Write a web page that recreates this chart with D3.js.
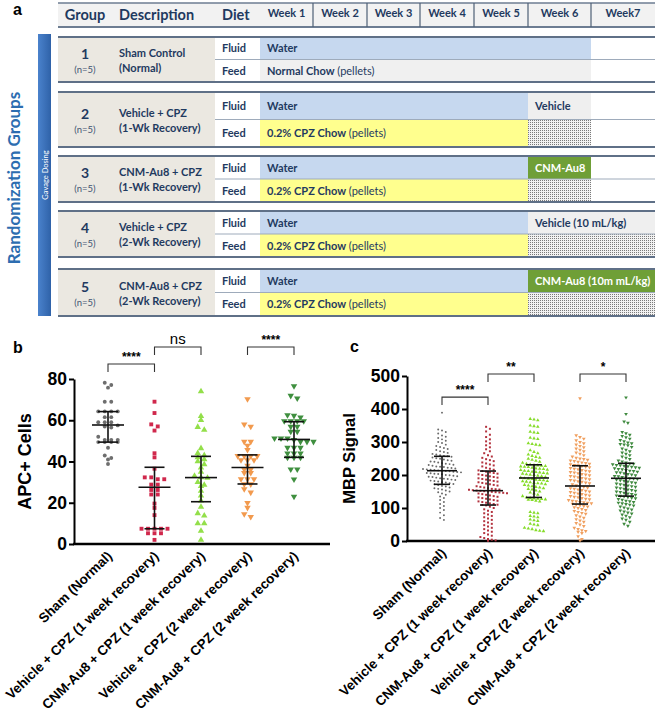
<!DOCTYPE html>
<html><head><meta charset="utf-8">
<script src="https://cdn.jsdelivr.net/npm/d3@7"></script>
<style>body{margin:0;background:#fff}svg{display:block}</style>
</head><body>
<script>
// ================= DATA =================
// Panel a : study design table
const headers = ["Group", "Description", "Diet"];
const weeks = ["Week 1", "Week 2", "Week 3", "Week 4", "Week 5", "Week 6", "Week7"];
const groupNums = ["1", "2", "3", "4", "5"];
const groupN = ["(n=5)", "(n=5)", "(n=5)", "(n=5)", "(n=5)"];
const groupDesc1 = ["Sham Control", "Vehicle + CPZ", "CNM-Au8 + CPZ", "Vehicle + CPZ", "CNM-Au8 + CPZ"];
const groupDesc2 = ["(Normal)", "(1-Wk Recovery)", "(1-Wk Recovery)", "(2-Wk Recovery)", "(2-Wk Recovery)"];
const dietRows = ["Fluid", "Feed"];
const waterLabel = ["Water", "Water", "Water", "Water", "Water"];
const waterWeeks = [6, 5, 5, 5, 5];
const feedBold = ["Normal Chow", "0.2% CPZ Chow", "0.2% CPZ Chow", "0.2% CPZ Chow", "0.2% CPZ Chow"];
const feedNote = [" (pellets)", " (pellets)", " (pellets)", " (pellets)", " (pellets)"];
const feedType = ["normal", "cpz", "cpz", "cpz", "cpz"];
const feedWeeks = [6, 5, 5, 5, 5];
const dosingLabel = ["", "Vehicle", "CNM-Au8", "Vehicle (10 mL/kg)", "CNM-Au8 (10m mL/kg)"];
const dosingType = ["none", "vehicle", "cnm", "vehicle", "cnm"];
const dosingWeeks = [0, 1, 1, 2, 2];
const sideTitle = "Randomization Groups";
const barTitle = "Gavage Dosing";

// Panels b and c : categories
const categories = ["Sham (Normal)", "Vehicle + CPZ (1 week recovery)", "CNM-Au8 + CPZ (1 week recovery)",
  "Vehicle + CPZ (2 week recovery)", "CNM-Au8 + CPZ (2 week recovery)"];

// Panel b : APC+ cells
const apcSham = [78.2, 77.1, 75.8, 69, 69, 64.3, 64.3, 64.3, 64.3, 61.5, 61.5, 59, 59, 59, 57.5, 57, 56.5, 52, 50.5, 50.5, 50.5, 49.4, 49.4, 49.4, 49.4, 46.7, 42.9, 41.7, 41, 38.8];
const apcVeh1 = [69, 63.5, 58, 57, 55, 44, 42, 36.5, 32.3, 32.3, 31.4, 31.4, 28.8, 28.8, 26.2, 26.2, 24, 24, 19.6, 17.5, 14, 7.4, 7.4, 7.4, 7.4, 7.4, 5.2, 5.2, 5.2, 2];
const apcCnm1 = [74, 62, 60, 56.7, 55.3, 46.4, 44, 43, 42, 41, 40, 38.6, 37, 35, 33, 32.3, 32, 30, 28.6, 28, 25.7, 23.4, 21, 18, 14.9, 13.7, 10, 10, 6.3, 2];
const apcVeh2 = [70.3, 58, 56.9, 49.6, 49.6, 47.7, 45.7, 42.7, 42.7, 42.7, 42.7, 40.7, 40.7, 40.7, 38, 36.2, 36.2, 34.5, 34.5, 31.5, 31.5, 31.5, 29, 29, 26.6, 25, 20, 17.6, 14.5, 13.2];
const apcCnm2 = [76.6, 71.9, 70.6, 62.5, 62.2, 61.4, 59.6, 59.6, 59.6, 59.6, 56.9, 56.9, 54.5, 54.5, 51.2, 51.2, 51.2, 50.5, 49.6, 49.6, 49.6, 46.7, 46.7, 46.7, 44, 44, 44, 41.9, 41.9, 41.9, 36.2, 36.2, 31.4, 23];
const apcMedian = [57.7, 27.5, 32.2, 37.1, 50.7];
const apcQ1 = [49.4, 7.4, 20.5, 29.1, 42];
const apcQ3 = [64.2, 37.2, 42.5, 43.2, 59.3];
const apcTicks = [0, 20, 40, 60, 80];
const apcCompFrom = [0, 1, 3];
const apcCompTo = [1, 2, 4];
const apcCompLabel = ["****", "ns", "****"];
const apcCompLevel = [87.3, 95.5, 95.5];

// Panel c : MBP signal
const mbpSham = [389, 338, 335, 330, 326, 320, 316, 312, 308, 304, 300, 297,
  292, 288, 285, 282, 279, 276, 272, 270, 267, 264, 262, 260, 258, 257, 255,
  253, 251, 249, 247, 245, 243, 241, 240, 238, 236, 234, 233, 231, 230, 228, 226, 225, 224, 222, 221,
  220, 218, 217, 216, 215, 214, 213, 212, 211, 210, 209, 208, 206, 205, 204, 203, 202, 200, 199, 198,
  196, 195, 194, 192, 190, 189, 188, 186, 185, 183, 182, 180, 178, 177, 175, 173, 172,
  170, 167, 165, 162, 160, 158, 156, 153, 150, 148, 144, 140, 135, 130, 124, 118, 112, 106,
  100, 94, 86, 78, 70, 64];
const mbpVeh1 = [346, 340, 332, 322, 315, 308, 302, 296, 290, 284, 278, 272, 266, 260, 256, 252,
  248, 245, 242, 238, 235, 232, 229, 226, 222, 219, 216, 214, 212,
  210, 208, 206, 204, 202, 200, 198, 196, 194, 192, 190, 188, 186, 184, 182, 180, 178, 176, 174, 172,
  170, 168, 166, 164, 162, 160, 158, 157, 156, 155, 154, 153, 152, 151, 150, 149, 148, 147, 146, 145,
  144, 142, 140, 138, 136, 134, 132, 130, 128, 126, 124, 122, 120, 118, 116, 114, 112, 110, 109, 108,
  104, 100, 96, 92, 88, 84, 80, 76, 72, 68, 64, 60, 56, 52,
  48, 44, 40, 36, 32, 28, 24, 20, 16, 12, 9, 6, 4, 2, 1];
const mbpCnm1 = [370, 368, 366, 350, 348, 346, 331, 329, 327, 313, 311, 309, 296, 294, 292, 290,
  275, 270, 266, 262, 258, 255, 252, 249, 246, 243, 240, 237, 234, 232,
  230, 229, 228, 227, 226, 225, 224, 222, 220, 219, 218, 216, 215, 213, 212, 210, 209, 208, 206, 205,
  204, 202, 201, 200, 198, 196, 194, 192,
  190, 189, 188, 186, 185, 184, 182, 181, 180, 178, 176, 175, 174, 172, 170, 168, 166, 164, 162, 160,
  158, 156, 153, 150, 147, 144, 140, 136,
  132, 130, 129, 128, 127, 126, 125, 124, 122, 120,
  88, 86, 84, 76, 74, 72, 65, 63, 61, 52, 50, 48, 40, 38, 36, 33, 31, 30];
const mbpVeh2 = [432, 320, 315, 310, 305, 300, 296, 292, 288, 284, 280, 276, 272, 268, 264, 260, 256, 252, 250, 248, 246,
  244, 242, 240, 238, 236, 234, 232, 230, 229,
  227, 225, 223, 221, 219, 217, 215, 213, 211, 209, 207, 205, 203, 201, 199, 197, 195, 193, 191, 189,
  187, 185, 183, 181, 179, 177, 175, 172, 169,
  166, 164, 162, 160, 158, 156, 154, 152, 150, 148, 146, 144, 142, 140, 138, 136, 134, 132, 130, 128,
  126, 124, 122, 120, 118, 117, 116, 114, 113,
  110, 108, 106, 104, 102, 100, 97, 94, 91, 88, 85, 82, 78, 74, 70, 66, 62, 58, 54, 50,
  45, 40, 36, 32, 30, 28, 24, 14, 6, 2];
const mbpCnm2 = [435, 385, 362, 358, 330, 326, 322, 318, 314, 310, 306, 302, 298, 296, 294, 292,
  290, 285, 280, 276, 272, 268, 264, 260, 256, 252, 248, 244, 241, 238,
  235, 234, 232, 230, 229, 228, 226, 225, 223, 222, 220, 218, 217, 215, 213, 212, 210, 208, 207, 205,
  203, 201, 199, 197, 196, 194, 192, 190,
  189, 188, 186, 184, 182, 180, 178, 176, 174, 172, 170, 168, 166, 164, 162, 160, 158, 156, 154, 152,
  150, 148, 146, 144, 142, 140, 138, 137,
  135, 133, 131, 129, 127, 125, 122, 120, 118, 116, 114, 112, 110, 107, 104, 101, 98, 95, 92, 89,
  86, 83, 80, 76, 72, 68, 64, 58, 52, 46];
const mbpMedian = [213, 152.5, 191, 166.7, 190];
const mbpQ1 = [171.7, 109, 132, 112, 136];
const mbpQ3 = [256.6, 212, 231, 228, 235.5];
const mbpTicks = [0, 100, 200, 300, 400, 500];
const mbpCompFrom = [0, 1, 3];
const mbpCompTo = [1, 2, 4];
const mbpCompLabel = ["****", "**", "*"];
const mbpCompLevel = [436, 506, 506];

// ================= STYLE / LAYOUT =================
const W = 659, H = 715;
const navy = "#1f3a60";
const tblFont = "Lato, 'Open Sans', sans-serif";
const chartFont = "'Liberation Sans', Arial, sans-serif";
const weekEdges = [260, 313, 367, 420, 474, 528, 591, 655];
const groupTop = [37, 92, 156, 211, 269];
const groupBot = [82, 147, 202, 257, 316];
const tblLeft = 58, descRight = 215, tblRight = 655;

const svg = d3.select("body").append("svg").attr("width", W).attr("height", H)
  .attr("viewBox", `0 0 ${W} ${H}`);
const defs = svg.append("defs");
const pat = defs.append("pattern").attr("id", "stipple").attr("width", 2).attr("height", 2)
  .attr("patternUnits", "userSpaceOnUse");
pat.append("rect").attr("width", 2).attr("height", 2).attr("fill", "#f2f2f2");
pat.append("rect").attr("width", 1).attr("height", 1).attr("fill", "#7a7a7a");
const grad = defs.append("linearGradient").attr("id", "barGrad").attr("x1", 0).attr("x2", 1);
grad.append("stop").attr("offset", 0).attr("stop-color", "#4a82cc");
grad.append("stop").attr("offset", 1).attr("stop-color", "#2f62a8");

// ================= PANEL A =================
const A = svg.append("g");
A.append("text").attr("x", 13).attr("y", 15).text("a")
  .attr("font-family", chartFont).attr("font-size", 16).attr("font-weight", "bold");

// header
A.append("rect").attr("x", tblLeft).attr("y", 3).attr("width", tblRight - tblLeft).attr("height", 24).attr("fill", "#f2f2f2");
A.append("line").attr("x1", tblLeft).attr("x2", tblRight).attr("y1", 3).attr("y2", 3).attr("stroke", "#6d7d92").attr("stroke-width", 1.5);
A.append("line").attr("x1", tblLeft).attr("x2", tblRight).attr("y1", 27).attr("y2", 27).attr("stroke", "#6d7d92").attr("stroke-width", 2);
const headerX = [85, 119, 222];
const headerAnchor = ["middle", "start", "start"];
A.selectAll("text.hdr").data(headers).join("text").attr("class", "hdr")
  .attr("x", (d, i) => headerX[i]).attr("y", 20).attr("text-anchor", (d, i) => headerAnchor[i])
  .attr("font-family", tblFont).attr("font-weight", "bold").attr("font-size", 14.5).attr("fill", navy).text(d => d);
A.selectAll("line.wsep").data(weeks.slice(1)).join("line").attr("class", "wsep")
  .attr("x1", (d, i) => weekEdges[i + 1]).attr("x2", (d, i) => weekEdges[i + 1]).attr("y1", 3).attr("y2", 27)
  .attr("stroke", "#4e5f75").attr("stroke-width", 1.2);
A.selectAll("text.wk").data(weeks).join("text").attr("class", "wk")
  .attr("x", (d, i) => (weekEdges[i] + weekEdges[i + 1]) / 2).attr("y", 16.5).attr("text-anchor", "middle")
  .attr("font-family", tblFont).attr("font-weight", "bold").attr("font-size", 11).attr("fill", navy).text(d => d);

// side titles
A.append("text").attr("transform", "translate(20,178) rotate(-90)").attr("text-anchor", "middle")
  .attr("font-family", tblFont).attr("font-weight", "bold").attr("font-size", 17).attr("fill", "#2d6db0").text(sideTitle);
A.append("rect").attr("x", 38).attr("y", 34).attr("width", 13).attr("height", 282).attr("fill", "url(#barGrad)");
A.append("text").attr("transform", "translate(47.5,175) rotate(-90)").attr("text-anchor", "middle")
  .attr("font-family", tblFont).attr("font-size", 7.5).attr("fill", "#ffffff").text(barTitle);

groupNums.forEach((num, g) => {
  const t = groupTop[g], b = groupBot[g], m = (t + b) / 2;
  const G = A.append("g");
  G.append("rect").attr("x", tblLeft).attr("y", t).attr("width", descRight - tblLeft).attr("height", b - t).attr("fill", "#ebe8e1");
  // fluid: water
  G.append("rect").attr("x", weekEdges[0]).attr("y", t).attr("width", weekEdges[waterWeeks[g]] - weekEdges[0]).attr("height", m - t).attr("fill", "#c6d8ef");
  // feed
  G.append("rect").attr("x", weekEdges[0]).attr("y", m).attr("width", weekEdges[feedWeeks[g]] - weekEdges[0]).attr("height", b - m)
    .attr("fill", feedType[g] === "normal" ? "#f0f0f0" : "#ffff8e");
  // dosing
  if (dosingWeeks[g] > 0) {
    const x0 = weekEdges[5], x1 = weekEdges[5 + dosingWeeks[g]];
    G.append("rect").attr("x", x0).attr("y", t).attr("width", x1 - x0).attr("height", m - t)
      .attr("fill", dosingType[g] === "cnm" ? "#6f9f37" : "#efefef");
    G.append("rect").attr("x", x0).attr("y", m).attr("width", x1 - x0).attr("height", b - m).attr("fill", "url(#stipple)");
    G.append("text").attr("x", x0 + 7).attr("y", (t + m) / 2 + 4).attr("font-family", tblFont).attr("font-weight", "bold")
      .attr("font-size", 11).attr("fill", dosingType[g] === "cnm" ? "#ffffff" : navy).text(dosingLabel[g]);
  }
  // lines
  G.append("line").attr("x1", descRight).attr("x2", tblRight).attr("y1", m).attr("y2", m).attr("stroke", "#9eabbb").attr("stroke-width", 1);
  G.append("line").attr("x1", tblLeft).attr("x2", tblRight).attr("y1", t).attr("y2", t).attr("stroke", "#5f7087").attr("stroke-width", 2);
  G.append("line").attr("x1", tblLeft).attr("x2", tblRight).attr("y1", b).attr("y2", b).attr("stroke", "#5f7087").attr("stroke-width", 2);
  // texts
  G.append("text").attr("x", 85).attr("y", m - 1).attr("text-anchor", "middle").attr("font-family", tblFont)
    .attr("font-weight", "bold").attr("font-size", 14).attr("fill", navy).text(num);
  G.append("text").attr("x", 85).attr("y", m + 13).attr("text-anchor", "middle").attr("font-family", tblFont)
    .attr("font-size", 9.5).attr("fill", "#3f5473").text(groupN[g]);
  G.append("text").attr("x", 119).attr("y", m - 3).attr("font-family", tblFont).attr("font-weight", "bold")
    .attr("font-size", 11).attr("fill", navy).text(groupDesc1[g]);
  G.append("text").attr("x", 119).attr("y", m + 12).attr("font-family", tblFont).attr("font-weight", "bold")
    .attr("font-size", 11).attr("fill", navy).text(groupDesc2[g]);
  dietRows.forEach((r, k) => {
    const yy = k === 0 ? (t + m) / 2 + 4 : (m + b) / 2 + 4;
    G.append("text").attr("x", 222).attr("y", yy).attr("font-family", tblFont).attr("font-weight", "bold")
      .attr("font-size", 11).attr("fill", navy).text(r);
  });
  G.append("text").attr("x", weekEdges[0] + 7).attr("y", (t + m) / 2 + 4).attr("font-family", tblFont).attr("font-weight", "bold")
    .attr("font-size", 11).attr("fill", navy).text(waterLabel[g]);
  const ft = G.append("text").attr("x", weekEdges[0] + 7).attr("y", (m + b) / 2 + 4).attr("font-family", tblFont)
    .attr("font-size", 11).attr("fill", navy);
  ft.append("tspan").attr("font-weight", "bold").text(feedBold[g]);
  ft.append("tspan").attr("font-weight", "normal").text(feedNote[g]);
});

// ================= PANELS B & C =================
function swarm(values, y, cx, spacing, bin) {
  const s = values.slice().sort((a, b) => b - a);
  const rows = [];
  s.forEach(v => {
    const py = y(v);
    const last = rows[rows.length - 1];
    if (last && py - last.y0 < bin) last.pts.push(py); else rows.push({ y0: py, pts: [py] });
  });
  const out = [];
  rows.forEach(r => {
    const n = r.pts.length;
    r.pts.forEach((py, i) => out.push({ x: cx + (i - (n - 1) / 2) * spacing, y: py }));
  });
  return out;
}

function scatterPanel(cfg) {
  const P = svg.append("g");
  const x = d3.scalePoint().domain(categories).range(cfg.xr);
  const y = d3.scaleLinear().domain(cfg.yd).range(cfg.yr);
  P.append("text").attr("x", cfg.lx).attr("y", cfg.ly).text(cfg.letter)
    .attr("font-family", chartFont).attr("font-size", 16).attr("font-weight", "bold");
  // y axis
  const ax = P.append("g").attr("transform", `translate(${cfg.axX},0)`)
    .call(d3.axisLeft(y).tickValues(cfg.ticks).tickSize(5).tickSizeOuter(0).tickPadding(2));
  ax.select(".domain").attr("stroke", "#000").attr("stroke-width", 2);
  ax.selectAll(".tick line").attr("stroke", "#000").attr("stroke-width", 2);
  ax.selectAll(".tick text").attr("font-family", chartFont).attr("font-weight", "bold").attr("font-size", 17.5).attr("fill", "#000");
  // x axis line
  P.append("line").attr("x1", cfg.axX - 1).attr("x2", cfg.axEnd).attr("y1", y(0)).attr("y2", y(0)).attr("stroke", "#000").attr("stroke-width", 2.5);
  // y label
  P.append("text").attr("transform", `translate(${cfg.ylx},${(cfg.yr[0] + cfg.yr[1]) / 2}) rotate(-90)`)
    .attr("text-anchor", "middle").attr("font-family", chartFont).attr("font-weight", "bold").attr("font-size", cfg.ylSize).text(cfg.ylabel);
  // x labels
  P.selectAll("text.xl").data(categories).join("text").attr("class", "xl")
    .attr("transform", d => `translate(${x(d) + 5},${y(0) + 13}) rotate(-44)`)
    .attr("text-anchor", "end").attr("font-family", chartFont).attr("font-weight", "bold").attr("font-size", 13.5).text(d => d);
  // points
  cfg.series.forEach((vals, i) => {
    const pts = swarm(vals, y, x(categories[i]), cfg.spacing, cfg.bin);
    const sym = d3.symbol().type(cfg.shapes[i]).size(cfg.sizes[i]);
    P.append("g").selectAll("path").data(pts).join("path")
      .attr("transform", d => `translate(${d.x},${d.y})` + (cfg.flip[i] ? " rotate(180)" : ""))
      .attr("d", sym).attr("fill", cfg.colors[i]);
  });
  // median + IQR
  categories.forEach((c, i) => {
    const cx = x(c);
    const g = P.append("g").attr("stroke", "#111").attr("stroke-width", 1.6);
    g.append("line").attr("x1", cx - cfg.medW).attr("x2", cx + cfg.medW).attr("y1", y(cfg.med[i])).attr("y2", y(cfg.med[i]));
    g.append("line").attr("x1", cx).attr("x2", cx).attr("y1", y(cfg.q1[i])).attr("y2", y(cfg.q3[i]));
    g.append("line").attr("x1", cx - cfg.capW).attr("x2", cx + cfg.capW).attr("y1", y(cfg.q1[i])).attr("y2", y(cfg.q1[i]));
    g.append("line").attr("x1", cx - cfg.capW).attr("x2", cx + cfg.capW).attr("y1", y(cfg.q3[i])).attr("y2", y(cfg.q3[i]));
  });
  // significance brackets
  cfg.compLabel.forEach((lab, k) => {
    const x0 = x(categories[cfg.compFrom[k]]), x1 = x(categories[cfg.compTo[k]]);
    const yy = y(cfg.compLevel[k]);
    P.append("path").attr("d", `M${x0},${yy + 8}V${yy}H${x1}V${yy + 8}`).attr("fill", "none").attr("stroke", "#333").attr("stroke-width", 1.1);
    const ns = lab === "ns";
    P.append("text").attr("x", (x0 + x1) / 2).attr("y", yy - 3).attr("text-anchor", "middle")
      .attr("font-family", chartFont).attr("font-weight", ns ? "normal" : "bold").attr("font-size", ns ? 15 : 12).text(lab);
  });
}

const sq = d3.symbolSquare, ci = d3.symbolCircle, tr = d3.symbolTriangle;
scatterPanel({
  letter: "b", lx: 13, ly: 353, xr: [108, 294], yd: [0, 80], yr: [544, 379], axX: 74, axEnd: 330,
  ticks: apcTicks, ylabel: "APC+ Cells", ylx: 31, ylSize: 18,
  series: [apcSham, apcVeh1, apcCnm1, apcVeh2, apcCnm2],
  colors: ["#6e6e6e", "#d0284c", "#93df4a", "#f29a4e", "#3f8f3f"],
  shapes: [ci, sq, tr, tr, tr], sizes: [12, 15, 18, 18, 18], flip: [false, false, false, true, true],
  spacing: 6.5, bin: 3.5, medW: 16, capW: 10,
  med: apcMedian, q1: apcQ1, q3: apcQ3,
  compFrom: apcCompFrom, compTo: apcCompTo, compLabel: apcCompLabel, compLevel: apcCompLevel
});
scatterPanel({
  letter: "c", lx: 350, ly: 352, xr: [442, 626], yd: [0, 500], yr: [541, 376], axX: 407, axEnd: 655,
  ticks: mbpTicks, ylabel: "MBP Signal", ylx: 355, ylSize: 16.5,
  series: [mbpSham, mbpVeh1, mbpCnm1, mbpVeh2, mbpCnm2],
  colors: ["#6a6a6a", "#b3323e", "#86dc2a", "#f0a060", "#3f8a3f"],
  shapes: [ci, sq, tr, tr, tr], sizes: [3, 4, 5.5, 6, 6], flip: [false, false, false, true, true],
  spacing: 3.8, bin: 3.4, medW: 15, capW: 8,
  med: mbpMedian, q1: mbpQ1, q3: mbpQ3,
  compFrom: mbpCompFrom, compTo: mbpCompTo, compLabel: mbpCompLabel, compLevel: mbpCompLevel
});
</script>
</body></html>
